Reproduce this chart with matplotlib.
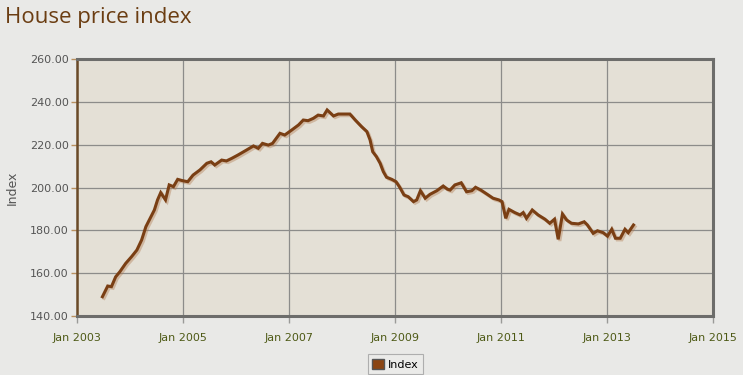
import matplotlib.pyplot as plt
import matplotlib.patheffects as pe
from matplotlib.patches import Patch

# house price index (decimal year, index)
years = [2003.48, 2003.58, 2003.65, 2003.73, 2003.81, 2003.92, 2004.03, 2004.13,
         2004.22, 2004.30, 2004.38, 2004.46, 2004.52, 2004.58, 2004.67, 2004.74,
         2004.82, 2004.90, 2004.99, 2005.09, 2005.19, 2005.32, 2005.45, 2005.53,
         2005.60, 2005.73, 2005.82, 2005.92, 2006.04, 2006.20, 2006.33, 2006.42,
         2006.50, 2006.61, 2006.69, 2006.83, 2006.92, 2007.05, 2007.18, 2007.27,
         2007.36, 2007.46, 2007.55, 2007.65, 2007.72, 2007.84, 2007.93, 2008.15,
         2008.25, 2008.37, 2008.47, 2008.53, 2008.58, 2008.65, 2008.72, 2008.78,
         2008.84, 2008.94, 2009.02, 2009.09, 2009.17, 2009.25, 2009.35, 2009.41,
         2009.48, 2009.57, 2009.66, 2009.79, 2009.91, 2009.99, 2010.04, 2010.13,
         2010.25, 2010.35, 2010.45, 2010.52, 2010.62, 2010.73, 2010.85, 2010.96,
         2011.02, 2011.09, 2011.15, 2011.26, 2011.36, 2011.42, 2011.48, 2011.59,
         2011.70, 2011.83, 2011.92, 2012.01, 2012.08, 2012.16, 2012.24, 2012.33,
         2012.46, 2012.57, 2012.63, 2012.74, 2012.82, 2012.93, 2013.01, 2013.09,
         2013.16, 2013.25, 2013.34, 2013.40, 2013.50]
index = [149.0, 154.0, 153.7, 158.3, 160.7, 164.6, 167.7, 170.8,
         175.5, 181.7, 185.6, 189.5, 194.2, 197.6, 194.2, 201.2,
         200.4, 203.8, 203.2, 202.7, 205.8, 208.2, 211.3, 212.0,
         210.5, 212.8, 212.4, 213.6, 215.2, 217.5, 219.4, 218.3,
         220.6, 219.8, 220.6, 225.3, 224.5, 226.8, 229.2, 231.5,
         231.2, 232.3, 233.8, 233.4, 236.2, 233.4, 234.3, 234.3,
         231.5, 228.4, 226.1, 222.2, 216.7, 214.4, 211.3, 207.4,
         204.8, 203.8, 202.7, 200.1, 196.5, 195.7, 193.4, 194.2,
         198.5, 195.0, 196.8, 198.5, 200.7, 199.2, 198.8, 201.2,
         202.2, 198.0, 198.5, 200.1, 198.8, 197.0, 195.0, 194.2,
         193.4, 185.6, 189.8, 188.3, 187.2, 188.3, 185.6, 189.5,
         187.2, 185.2, 183.3, 185.2, 175.8, 187.6, 184.8, 183.3,
         183.0, 184.0, 182.5, 178.6, 179.8, 178.9, 177.3, 180.5,
         176.3, 176.3, 180.5, 178.9, 182.5]

x_ticks = [2003, 2005, 2007, 2009, 2011, 2013, 2015]
x_labels = ["Jan 2003", "Jan 2005", "Jan 2007", "Jan 2009", "Jan 2011", "Jan 2013", "Jan 2015"]
y_ticks = [140, 160, 180, 200, 220, 240, 260]

brown = "#7a3f14"

fig = plt.figure(figsize=(7.43, 3.75), dpi=100, facecolor="#e9e9e7")
ax = fig.add_axes([0.1036, 0.1573, 0.856, 0.6854])
ax.set_facecolor("#e4e0d6")

ax.plot(years, index, color=brown, lw=2.2, solid_joinstyle="miter",
        path_effects=[pe.SimpleLineShadow(offset=(1.2, -1.2), shadow_color="#b07a50", alpha=0.4),
                      pe.Normal()], zorder=3)

ax.set_xlim(2003, 2015)
ax.set_ylim(140, 260)
ax.set_xticks(x_ticks)
ax.set_xticklabels(x_labels)
ax.set_yticks(y_ticks)
ax.set_yticklabels([f"{v:.2f}" for v in y_ticks])
ax.grid(True, color="#8c8c8a", lw=0.9)
ax.set_axisbelow(True)

ax.tick_params(axis="x", colors="#9a9a98", length=5, width=1, labelcolor="#4e5a16", labelsize=8, pad=7)
ax.tick_params(axis="y", colors="#b89060", length=4, width=1, labelcolor="#555555", labelsize=8, pad=2)

for s in ["top", "right", "bottom"]:
    ax.spines[s].set_color("#6d6d6b")
    ax.spines[s].set_linewidth(2.2)
ax.spines["left"].set_color("#6a4a28")
ax.spines["left"].set_linewidth(1.8)

ax.set_ylabel("Index", color="#555555", fontsize=9, labelpad=8)

fig.text(0.007, 0.952, "House price index", color="#6b3d12", fontsize=16,
         family="Open Sans", va="center", ha="left")

leg = fig.legend(handles=[Patch(facecolor="#8b4513", edgecolor="#555555", label="Index")],
                 loc="upper center", bbox_to_anchor=(0.532, 0.07), fontsize=8,
                 frameon=True, handlelength=1.1, handleheight=1.1, handletextpad=0.3,
                 borderpad=0.4, fancybox=False)
leg.get_frame().set_edgecolor("#a0a0a0")
leg.get_frame().set_facecolor("#ececea")
leg.get_frame().set_linewidth(0.8)

fig.savefig("out.png", dpi=100, facecolor=fig.get_facecolor())
